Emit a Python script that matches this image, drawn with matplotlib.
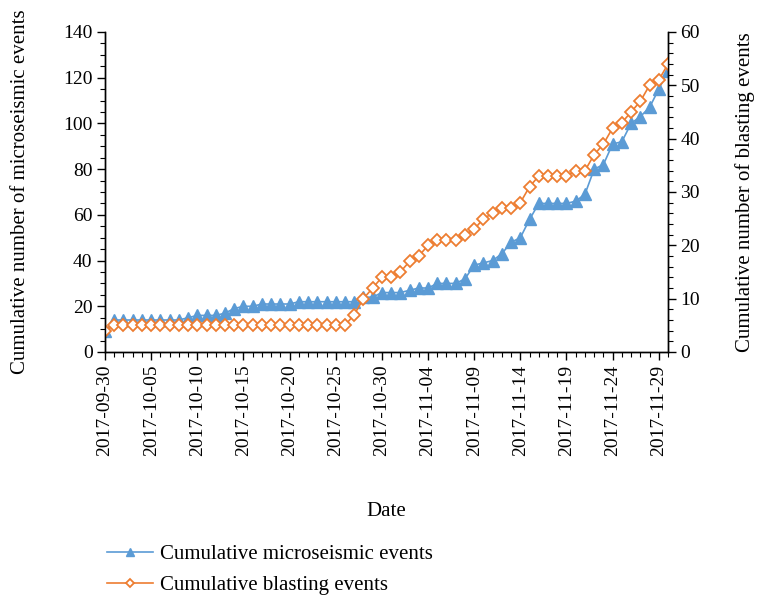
import numpy as np
import pandas as pd
import matplotlib
matplotlib.use("Agg")
import matplotlib.pyplot as plt
import matplotlib.dates as mdates

plt.rcParams['font.family'] = ['Liberation Serif', 'DejaVu Serif']

# Datos: eventos acumulados diarios, 2017-09-30 a 2017-11-30
dates = pd.date_range('2017-09-30', '2017-11-30', freq='D')

micro = [9,
         14, 14, 14, 14, 14, 14, 14, 14, 15, 16,
         16, 16, 17, 19, 20, 20, 21, 21, 21, 21,
         22, 22, 22, 22, 22, 22, 22, 24, 24, 26, 26,
         26, 27, 28, 28, 30, 30, 30, 32, 38, 39,
         40, 43, 48, 50, 58, 65, 65, 65, 65, 66,
         69, 80, 82, 91, 92, 100, 103, 107, 115, 123]

blast = [4,
         5, 5, 5, 5, 5, 5, 5, 5, 5, 5,
         5, 5, 5, 5, 5, 5, 5, 5, 5, 5,
         5, 5, 5, 5, 5, 5, 7, 10, 12, 14, 14,
         15, 17, 18, 20, 21, 21, 21, 22, 23, 25,
         26, 27, 27, 28, 31, 33, 33, 33, 33, 34,
         34, 37, 39, 42, 43, 45, 47, 50, 51, 54]

blue = '#5B9BD5'
orange = '#ED7D31'

fig = plt.figure(figsize=(7.57, 5.99), dpi=100)
ax = fig.add_axes([105/757, 1 - 352/599, 563/757, 320/599])
ax2 = ax.twinx()

l1, = ax.plot(dates, micro, color=blue, lw=1.2, marker='^', ms=8,
              mfc=blue, mec=blue, label='Cumulative microseismic events')
l2, = ax2.plot(dates, blast, color=orange, lw=1.2, marker='D', ms=5.8,
               mfc='white', mec=orange, mew=1.3, label='Cumulative blasting events')

ax.set_xlim(dates[0], dates[-1])
ax.set_ylim(0, 140)
ax2.set_ylim(0, 60)

ax.set_yticks(np.arange(0, 141, 20))
ax.set_yticks(np.arange(0, 141, 5), minor=True)
ax2.set_yticks(np.arange(0, 61, 10))
ax2.set_yticks(np.arange(0, 61, 2), minor=True)

ax.set_xticks(dates[::5])
ax.set_xticks(dates, minor=True)
ax.xaxis.set_major_formatter(mdates.DateFormatter('%Y-%m-%d'))
plt.setp(ax.get_xticklabels(), rotation=90)

for a in (ax, ax2):
    a.spines['top'].set_visible(False)
    for s in a.spines.values():
        s.set_linewidth(1.0)
    a.tick_params(which='major', direction='out', length=6, width=1.0,
                  labelsize=14, pad=3)
    a.tick_params(which='minor', direction='out', length=3.5, width=0.8)

ax.set_xlabel('Date', fontsize=15, labelpad=33)
ax.set_ylabel('Cumulative number of microseismic events', fontsize=15, labelpad=24)
ax2.set_ylabel('Cumulative number of blasting events', fontsize=15, labelpad=25)

fig.legend(handles=[l1, l2], loc='upper left',
           bbox_to_anchor=(88/757, 1 - 526/599), frameon=False,
           fontsize=15, handlelength=2.2, handletextpad=0.35, labelspacing=0.55,
           markerscale=0.75)

fig.savefig('out.png', dpi=100)
